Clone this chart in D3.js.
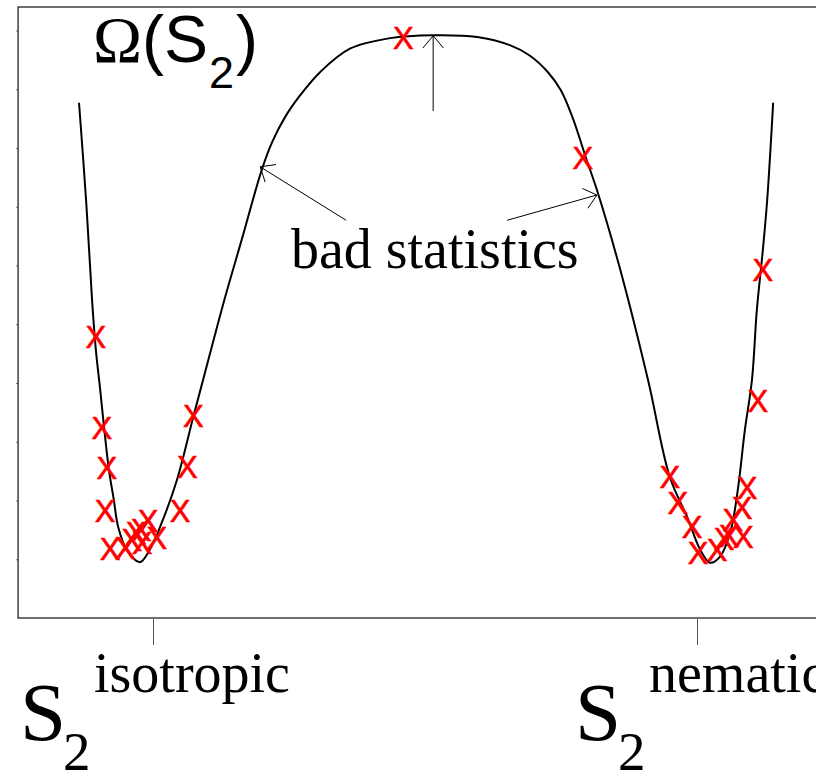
<!DOCTYPE html>
<html>
<head>
<meta charset="utf-8">
<style>
    body { margin: 0; background: #fff; }
    svg { display: block; }
    .frame { fill: none; stroke: #222; stroke-width: 1.3px; }
    .x .domain, .y .domain { display: none; }
    .x .tick line { stroke: #555; }
    .y .tick line { stroke: #777; }
    .curve { fill: none; stroke: #000; stroke-width: 2px; }
    .mark { fill: #ff0000; stroke: #ff0000; stroke-width: 0.6px; font-family: "Liberation Sans", Arial, sans-serif; font-size: 31px; }
    .serif { font-family: "Liberation Serif", "Times New Roman", serif; fill: #000; }
    .sans { font-family: "Liberation Sans", Arial, sans-serif; fill: #000; }
    .arrow { stroke: #000; stroke-width: 1px; fill: none; }
</style>
</head>
<body>
<svg width="816" height="775"></svg>

<script src="https://d3js.org/d3.v7.min.js"></script>
<script>
// order parameter S2 (0 = isotropic, 1 = nematic) and free energy Omega (arb. units)
let curveS = [-0.136, -0.123, -0.112, -0.105, -0.097, -0.090, -0.081, -0.072, -0.064, -0.048,
    -0.024, -0.006, 0.013, 0.044, 0.074, 0.092, 0.131, 0.165, 0.200, 0.219,
    0.243, 0.270, 0.307, 0.362, 0.436, 0.515, 0.596, 0.656, 0.693, 0.726,
    0.750, 0.772, 0.796, 0.818, 0.858, 0.910, 0.950, 0.982, 1.006, 1.024,
    1.042, 1.061, 1.075, 1.088, 1.101, 1.110, 1.121, 1.129, 1.140]
let curveOmega = [8.77, 7.11, 5.41, 4.56, 3.88, 3.25, 2.52, 2.01, 1.55, 1.16,
    0.95, 1.16, 1.55, 2.35, 3.42, 4.05, 5.41, 6.50, 7.63, 8.10,
    8.53, 8.89, 9.29, 9.69, 9.87, 9.92, 9.89, 9.75, 9.57, 9.29,
    8.98, 8.50, 7.83, 7.23, 5.96, 4.05, 2.40, 1.72, 1.16, 0.94,
    1.04, 1.45, 2.18, 3.20, 4.05, 5.24, 6.26, 7.11, 8.77]

// simulation points (red crosses)
let markS = [-0.105, -0.094, -0.085, -0.088, -0.079, -0.051, -0.039, -0.031, -0.022, -0.009,
    -0.020, 0.007, 0.050, 0.063, 0.074, 0.460, 0.790,
    0.950, 0.965, 0.991, 1.002, 1.037, 1.050, 1.059, 1.066, 1.085, 1.083, 1.092, 1.112, 1.121]
let markOmega = [4.78, 3.23, 2.55, 1.82, 1.17, 1.19, 1.33, 1.45, 1.50, 1.65,
    1.28, 1.36, 1.82, 2.57, 3.44, 9.87, 7.83,
    2.40, 1.96, 1.55, 1.11, 1.16, 1.34, 1.40, 1.67, 1.38, 1.87, 2.21, 3.69, 5.92]

let xTicks = [0, 1]
let xTickNames = ["isotropic", "nematic"]
let yTicks = [1, 2, 3, 4, 5, 6, 7, 8, 9, 10]

let svg = d3.select("svg")

let x = d3.scaleLinear().domain([0, 1]).range([153, 697])
let y = d3.scaleLinear().domain([0, 10.4]).range([618, 7])
let xLim = [-0.248, 1.248]

// axes (no labels, just ticks)
svg.append("g")
    .attr("class", "x axis")
    .attr("transform", "translate(0,619)")
    .call(d3.axisBottom(x).tickValues(xTicks).tickSize(26).tickFormat(""))

svg.append("g")
    .attr("class", "y axis")
    .attr("transform", `translate(${x(xLim[0])},0)`)
    .call(d3.axisLeft(y).tickValues(yTicks).tickSize(2).tickFormat(""))

svg.append("rect")
    .attr("class", "frame")
    .attr("x", x(xLim[0]))
    .attr("y", y(10.4))
    .attr("width", x(xLim[1]) - x(xLim[0]))
    .attr("height", y(0) - y(10.4))

let pts = curveS.map((s, i) => [s, curveOmega[i]])
let line = d3.line()
    .x(d => x(d[0]))
    .y(d => y(d[1]))
    .curve(d3.curveCatmullRom.alpha(0.5))

svg.append("path")
    .attr("class", "curve")
    .attr("d", line(pts))

svg.append("g")
    .selectAll("text")
    .data(markS.map((s, i) => [s, markOmega[i]]))
    .join("text")
    .attr("class", "mark")
    .attr("x", d => x(d[0]))
    .attr("y", d => y(d[1]))
    .attr("dy", "0.36em")
    .attr("text-anchor", "middle")
    .text("X")

// arrows for "bad statistics"
let arrows = [
    { from: [0.355, 6.77], to: [0.197, 7.68] },
    { from: [0.651, 6.77], to: [0.816, 7.20] },
    { from: [0.515, 8.63], to: [0.515, 9.91] }
]
let headLen = 16, headAng = 40 * Math.PI / 180
arrows.forEach(a => {
    let x0 = x(a.from[0]), y0 = y(a.from[1])
    let x1 = x(a.to[0]), y1 = y(a.to[1])
    let ang = Math.atan2(y0 - y1, x0 - x1)
    let p = d3.path()
    p.moveTo(x0, y0)
    p.lineTo(x1, y1)
    p.moveTo(x1 + headLen * Math.cos(ang + headAng), y1 + headLen * Math.sin(ang + headAng))
    p.lineTo(x1, y1)
    p.lineTo(x1 + headLen * Math.cos(ang - headAng), y1 + headLen * Math.sin(ang - headAng))
    svg.append("path").attr("class", "arrow").attr("d", p.toString())
})

svg.append("text")
    .attr("class", "serif")
    .attr("x", x(0.518))
    .attr("y", y(5.96))
    .attr("text-anchor", "middle")
    .style("font-size", "56px")
    .text("bad statistics")

// title Omega(S2)
let title = svg.append("text").attr("x", 93).attr("y", 62)
title.append("tspan").attr("class", "serif").style("font-size", "66px").text("Ω")
title.append("tspan").attr("class", "sans").style("font-size", "66px").text("(S")
title.append("tspan").attr("class", "sans").style("font-size", "45px").attr("dy", 26).attr("dx", 1).text("2")
title.append("tspan").attr("class", "sans").style("font-size", "66px").attr("dy", -26).attr("dx", 2).text(")")

// x labels: S2^isotropic, S2^nematic
let labelX = [20, 575]
xTicks.forEach((t, i) => {
    let g = svg.append("g").attr("transform", `translate(${labelX[i]},0)`)
    g.append("text").attr("class", "serif").attr("x", 0).attr("y", 740)
        .style("font-size", "83px").text("S")
    g.append("text").attr("class", "serif").attr("x", 43).attr("y", 770)
        .style("font-size", "55px").text("2")
    g.append("text").attr("class", "serif").attr("x", 74).attr("y", 692)
        .style("font-size", "56px").text(xTickNames[i])
})
</script>
</body>
</html>
